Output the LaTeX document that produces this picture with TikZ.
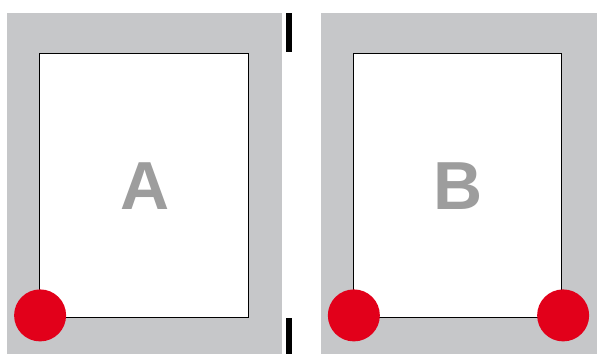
\documentclass[tikz,border=0pt]{standalone}
\usepackage{fontspec}
\setmainfont{Liberation Sans}
\definecolor{pnlgray}{HTML}{C6C7C9}
\definecolor{pnlred}{HTML}{E2001A}
\definecolor{pnltext}{HTML}{9D9D9D}
\usetikzlibrary{positioning}
\tikzset{
  pnlframe/.style={fill=pnlgray,draw=none,inner sep=0pt,minimum height=341pt},
  pnlsheet/.style={fill=white,draw=black,line width=0.8pt,inner sep=0pt,minimum width=208.5pt,minimum height=264pt},
  pnldot/.style={circle,fill=pnlred,draw=none,inner sep=0pt,minimum size=52pt,yshift=2pt,xshift=1pt},
  pnlletter/.style={text=pnltext,font=\fontsize{68}{68}\selectfont\bfseries,inner sep=0pt},
  pnlbar/.style={fill=black},
}
\begin{document}
\begin{tikzpicture}[x=1pt,y=-1pt]
\useasboundingbox (0,0) rectangle (597,354);
% grey mounts
\node[pnlframe,minimum width=275pt] (fa) at (144.5,183.5) {};
\node[pnlframe,minimum width=276pt] (fb) at (459,183.5) {};
% white sheets
\node[pnlsheet] (sa) at (143.75,185) {};
\node[pnlsheet] (sb) at (457.5,185) {};
\node[pnlletter] (la) at (145,186.5) {A};
\node[pnlletter] (lb) at (458,186.5) {B};
% red dots on the corners
\node[pnldot] (da) at (sa.south west) {};
\node[pnldot] (db) at (sb.south west) {};
\node[pnldot] (dc) at (sb.south east) {};
% cut marks
\fill[pnlbar] (286,13) rectangle (291.5,52);
\fill[pnlbar] (286,318) rectangle (291.5,354);
\end{tikzpicture}
\end{document}
